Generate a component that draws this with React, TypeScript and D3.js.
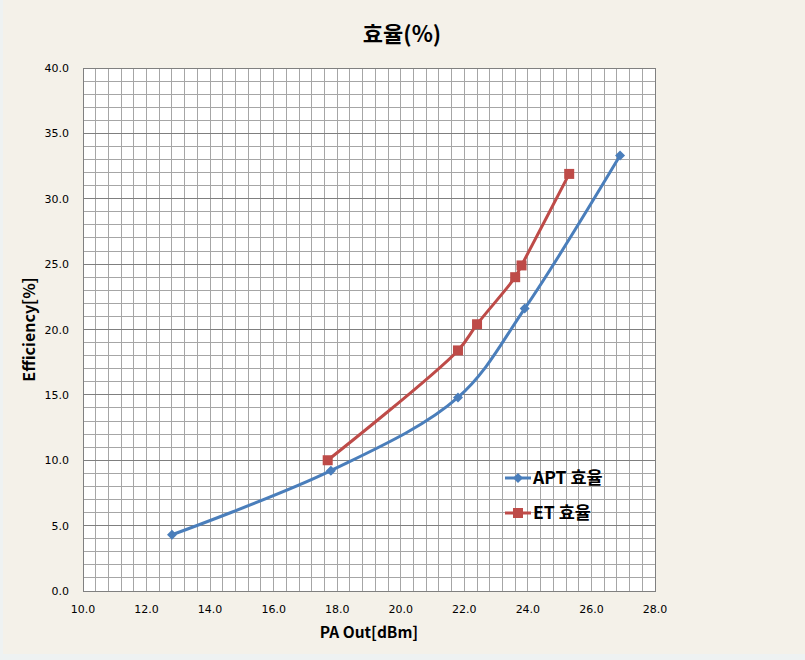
import React from "react";
import * as d3 from "d3";

const W = 805;
const H = 660;

const aptX = [12.8, 17.8, 21.8, 23.9, 26.9];
const aptY = [4.3, 9.2, 14.8, 21.6, 33.3];
const etX = [17.7, 21.8, 22.4, 23.6, 23.8, 25.3];
const etY = [10.0, 18.4, 20.4, 24.0, 24.9, 31.9];
const xTicks = [10, 12, 14, 16, 18, 20, 22, 24, 26, 28];
const yTicks = [0, 5, 10, 15, 20, 25, 30, 35, 40];
const seriesNames = ["APT 효율", "ET 효율"];
const title = "효율(%)";
const xTitle = "PA Out[dBm]";
const yTitle = "Efficiency[%]";

const BLUE = "#4A7EBB";
const RED = "#BE4B48";
const KFONT = "'Noto Sans CJK KR', 'Noto Sans', sans-serif";
const TFONT = "'DejaVu Sans', 'Noto Sans', sans-serif";

export default function App() {
  const L = 83, R = 655, T = 68, B = 591;
  const x = d3.scaleLinear().domain([10, 28]).range([L, R]);
  const y = d3.scaleLinear().domain([0, 40]).range([B, T]);

  const vMinor = d3.range(0, 46).map((i) => 10 + i * 0.4);
  const hMinor = d3.range(0, 41);

  const line = d3
    .line<[number, number]>()
    .x((d) => x(d[0]))
    .y((d) => y(d[1]))
    .curve(d3.curveCatmullRom.alpha(0.5));

  const apt: [number, number][] = aptX.map((v, i) => [v, aptY[i]]);
  const et: [number, number][] = etX.map((v, i) => [v, etY[i]]);

  const diamond = (cx: number, cy: number, r: number) =>
    `M${cx},${cy - r}L${cx + r},${cy}L${cx},${cy + r}L${cx - r},${cy}Z`;

  return (
    <svg
      width={W}
      height={H}
      style={{ position: "absolute", left: 0, top: 0, display: "block" }}
    >
      <rect x={0} y={0} width={W} height={H} fill="#EEF2F2" />
      <rect x={3} y={0} width={W - 3} height={H - 6} fill="#F4F1E9" />
      <text
        x={402}
        y={42}
        textAnchor="middle"
        fontFamily={KFONT}
        fontWeight="bold"
        fontSize={22}
        fill="#000"
      >
        {title}
      </text>
      <rect x={L} y={T} width={R - L} height={B - T} fill="#FFFFFF" />
      {vMinor.map((v, i) => (
        <line
          key={"v" + i}
          x1={x(v)}
          x2={x(v)}
          y1={T}
          y2={B}
          stroke="#A6A6A6"
          strokeWidth={1}
          shapeRendering="crispEdges"
        />
      ))}
      {hMinor.map((v) => (
        <line
          key={"h" + v}
          x1={L}
          x2={R}
          y1={y(v)}
          y2={y(v)}
          stroke={v % 5 === 0 ? "#7F7F7F" : "#A6A6A6"}
          strokeWidth={1}
          shapeRendering="crispEdges"
        />
      ))}
      <rect
        x={L}
        y={T}
        width={R - L}
        height={B - T}
        fill="none"
        stroke="#808080"
        shapeRendering="crispEdges"
      />
      {yTicks.map((v) => (
        <text
          key={"yt" + v}
          x={L - 14}
          y={y(v) + 4}
          textAnchor="end"
          fontFamily={TFONT}
          fontSize={11}
          fill="#000"
        >
          {v.toFixed(1)}
        </text>
      ))}
      {xTicks.map((v) => (
        <text
          key={"xt" + v}
          x={x(v)}
          y={B + 22}
          textAnchor="middle"
          fontFamily={TFONT}
          fontSize={11}
          fill="#000"
        >
          {v.toFixed(1)}
        </text>
      ))}
      <text
        x={369}
        y={638}
        textAnchor="middle"
        fontFamily={KFONT}
        fontWeight="bold"
        fontSize={15.5}
        fill="#000"
      >
        {xTitle}
      </text>
      <text
        transform={`translate(35,${(T + B) / 2}) rotate(-90)`}
        textAnchor="middle"
        fontFamily={KFONT}
        fontWeight="bold"
        fontSize={16}
        fill="#000"
      >
        {yTitle}
      </text>
      <path d={line(apt) || ""} fill="none" stroke={BLUE} strokeWidth={3} />
      <path d={line(et) || ""} fill="none" stroke={RED} strokeWidth={3} />
      {apt.map((d, i) => (
        <path key={"am" + i} d={diamond(x(d[0]), y(d[1]), 5)} fill={BLUE} />
      ))}
      {et.map((d, i) => (
        <rect
          key={"em" + i}
          x={x(d[0]) - 5}
          y={y(d[1]) - 5}
          width={10}
          height={10}
          fill={RED}
        />
      ))}
      <g>
        <line x1={505} x2={531} y1={478} y2={478} stroke={BLUE} strokeWidth={3} />
        <path d={diamond(518, 478, 5)} fill={BLUE} />
        <text
          x={533}
          y={484}
          fontFamily={KFONT}
          fontWeight="bold"
          fontSize={17.5}
          fill="#000"
        >
          {seriesNames[0]}
        </text>
        <line x1={505} x2={531} y1={513} y2={513} stroke={RED} strokeWidth={3} />
        <rect x={513} y={508} width={10} height={10} fill={RED} />
        <text
          x={533}
          y={519}
          fontFamily={KFONT}
          fontWeight="bold"
          fontSize={17.5}
          fill="#000"
        >
          {seriesNames[1]}
        </text>
      </g>
    </svg>
  );
}
